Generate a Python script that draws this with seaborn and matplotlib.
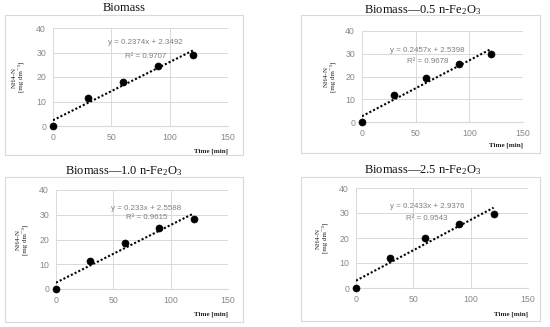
import numpy as np
import pandas as pd
import matplotlib
matplotlib.use("Agg")
import matplotlib.pyplot as plt
import seaborn as sns
from matplotlib.patches import Rectangle

# data
time_min = [0, 30, 60, 90, 120]
nh4_biomass = [0, 11.3, 18.0, 24.5, 29.0]
nh4_05 = [0, 11.8, 19.2, 25.5, 30.0]
nh4_10 = [0, 11.3, 18.5, 24.5, 28.4]
nh4_25 = [0, 12.2, 20.1, 25.8, 29.8]

titles = ["Biomass", "Biomass\u20140.5 n-Fe$_2$O$_3$",
          "Biomass\u20141.0 n-Fe$_2$O$_3$", "Biomass\u20142.5 n-Fe$_2$O$_3$"]
slopes = [0.2374, 0.2457, 0.233, 0.2433]
intercepts = [2.3492, 2.5398, 2.5588, 2.9376]
eq_labels = ["y = 0.2374x + 2.3492", "y = 0.2457x + 2.5398",
             "y = 0.233x + 2.5588", "y = 0.2433x + 2.9376"]
r2_labels = ["R\u00b2 = 0.9707", "R\u00b2 = 0.9678", "R\u00b2 = 0.9615", "R\u00b2 = 0.9543"]

series = [nh4_biomass, nh4_05, nh4_10, nh4_25]

sns.set_style("white")
plt.rcParams['font.family'] = ['Liberation Sans', 'DejaVu Sans']
plt.rcParams['mathtext.fontset'] = 'custom'
plt.rcParams['mathtext.rm'] = 'Liberation Serif'
plt.rcParams['mathtext.it'] = 'Liberation Serif'
plt.rcParams['mathtext.default'] = 'rm'
serif = ['Liberation Serif', 'DejaVu Serif']

W, H = 550, 327
fig = plt.figure(figsize=(5.5, 3.27), dpi=100)

# pixel layout of each panel
axes_px = [(53, 228, 28, 126), (362, 523, 31, 122), (56, 228, 190, 289), (356, 528, 188, 288)]
box_px = [(5, 243, 15, 155), (301, 540, 15, 153), (5, 243, 177, 322), (301, 540, 177, 321)]
title_px = [(124, 8), (423, 10), (124, 171), (423, 170)]
eq_pos = [(79, 33.9, 28.2), (61, 31.6, 26.4), (79, 32.7, 28.7), (62, 32.4, 28.0)]

for i in range(4):
    bx0, bx1, by0, by1 = box_px[i]
    fig.patches.append(Rectangle((bx0 / W, 1 - by1 / H), (bx1 - bx0) / W, (by1 - by0) / H,
                                 transform=fig.transFigure, fill=False,
                                 edgecolor="#d9d9d9", linewidth=0.8))
    x0, x1, y0, y1 = axes_px[i]
    ax = fig.add_axes([x0 / W, 1 - y1 / H, (x1 - x0) / W, (y1 - y0) / H])

    df = pd.DataFrame({"t": time_min, "n": series[i]})
    trend = pd.DataFrame({"t": [0, 120]})
    trend["n"] = slopes[i] * trend["t"] + intercepts[i]
    sns.lineplot(data=trend, x="t", y="n", ax=ax, color="black",
                 linestyle=(0, (1, 1)), linewidth=1.5, zorder=3)
    sns.scatterplot(data=df, x="t", y="n", ax=ax, color="black", s=26,
                    edgecolor="black", zorder=4, clip_on=False)

    ax.set_xlim(0, 150)
    ax.set_ylim(0, 40)
    ax.set_xticks([0, 50, 100, 150])
    ax.set_yticks([0, 10, 20, 30, 40])
    ax.grid(True, color="#d9d9d9", linewidth=0.7)
    ax.set_axisbelow(True)
    for s in ["top", "right", "left"]:
        ax.spines[s].set_visible(False)
    ax.spines["bottom"].set_color("#d9d9d9")
    ax.tick_params(length=0, labelsize=6.3, labelcolor="#888888", pad=5)
    ax.set_xlabel("")
    ax.set_ylabel("")

    ex, ey, ry = eq_pos[i]
    ax.text(ex, ey, eq_labels[i], ha="center", va="center", fontsize=5.7, color="#7f7f7f")
    ax.text(ex, ry, r2_labels[i], ha="center", va="center", fontsize=5.7, color="#7f7f7f")

    ax.text(-0.2, 0.5, "NH4-N\n[mg dm\u207b\u00b3]", transform=ax.transAxes, rotation=90,
            ha="center", va="center", fontsize=5, family=serif, color="#222222",
            linespacing=1.1)
    ax.text(1.0, -0.26, "Time [min]", transform=ax.transAxes, ha="right", va="center",
            fontsize=5, family=serif, fontweight="bold", color="#222222")

    tx, ty = title_px[i]
    fig.text(tx / W, 1 - ty / H, titles[i], ha="center", va="center",
             fontsize=9, family=serif, color="#111111")

fig.savefig("out.png", dpi=100)
